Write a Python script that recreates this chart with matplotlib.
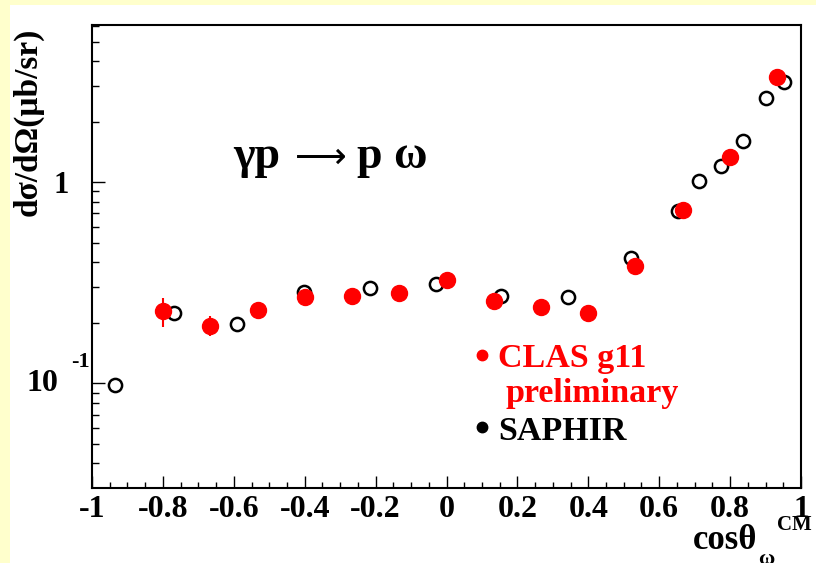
import matplotlib
matplotlib.use("Agg")
import matplotlib.pyplot as plt
import matplotlib.transforms as mtransforms
from matplotlib.patches import Rectangle
from matplotlib.ticker import MultipleLocator, FixedLocator
import numpy as np

# CLAS g11 preliminary: cos(theta) bins, dsigma/dOmega (ub/sr) and errors
clas_cos = [-0.800, -0.667, -0.533, -0.400, -0.267, -0.133, 0.000,
            0.133, 0.267, 0.400, 0.533, 0.667, 0.800, 0.933]
clas_xsec = [0.228, 0.194, 0.233, 0.268, 0.271, 0.280, 0.325,
             0.256, 0.239, 0.223, 0.382, 0.726, 1.33, 3.33]
clas_err = [0.037, 0.022, 0.010, 0.010, 0.010, 0.010, 0.012,
            0.010, 0.010, 0.010, 0.015, 0.030, 0.06, 0.15]

# SAPHIR points
saphir_cos = [-0.935, -0.769, -0.591, -0.402, -0.216, -0.030, 0.154,
              0.343, 0.520, 0.653, 0.712, 0.774, 0.836, 0.901, 0.952]
saphir_xsec = [0.098, 0.223, 0.197, 0.284, 0.297, 0.311, 0.271,
               0.268, 0.419, 0.718, 1.02, 1.20, 1.60, 2.62, 3.14]

x_ticks = [-1, -0.8, -0.6, -0.4, -0.2, 0, 0.2, 0.4, 0.6, 0.8, 1]
x_ticklabels = ["-1", "-0.8", "-0.6", "-0.4", "-0.2", "0", "0.2", "0.4", "0.6", "0.8", "1"]

W, H = 816, 563
serif = ["Liberation Serif", "DejaVu Serif"]
plt.rcParams["font.family"] = serif
plt.rcParams["font.weight"] = "bold"

fig = plt.figure(figsize=(W / 100, H / 100), dpi=100)
fig.patch.set_facecolor("white")
# yellow strips along the top and left edges
fig.patches.append(Rectangle((0, 0), 10 / W, 1, transform=fig.transFigure,
                             facecolor="#ffffcc", edgecolor="none", zorder=-10))
fig.patches.append(Rectangle((0, (H - 5) / H), 1, 5 / H, transform=fig.transFigure,
                             facecolor="#ffffcc", edgecolor="none", zorder=-10))

ax = fig.add_axes([92 / W, (H - 488) / H, (801 - 92) / W, (488 - 25) / H])
ax.set_facecolor("white")
ax.set_yscale("log")
ax.set_xlim(-1, 1)
ax.set_ylim(0.0302, 6.05)

for s in ax.spines.values():
    s.set_linewidth(1.5)

ax.xaxis.set_major_locator(FixedLocator(x_ticks))
ax.xaxis.set_minor_locator(MultipleLocator(0.05))
ax.set_xticklabels(x_ticklabels, fontsize=23, fontweight="bold")
ax.tick_params(axis="x", which="major", direction="in", length=8.5, width=1, pad=5)
ax.tick_params(axis="x", which="minor", direction="in", length=4.3, width=1)

ax.yaxis.set_major_locator(FixedLocator([0.1, 1]))
ax.yaxis.set_minor_locator(FixedLocator([m * 10.0 ** k for k in (-2, -1, 0)
                                         for m in range(2, 10)]))
ax.set_yticklabels(["", "1"], fontsize=22, fontweight="bold")
ax.yaxis.set_minor_formatter(plt.NullFormatter())
ax.tick_params(axis="y", which="major", direction="in", length=9.5, width=1, pad=17)
ax.tick_params(axis="y", which="minor", direction="in", length=5, width=1)
ax.tick_params(top=False, right=False, which="both")

# 10^-1 label drawn in two pieces
ytrans = mtransforms.blended_transform_factory(ax.transAxes, ax.transData)
ax.text(-(92 - 58) / 709, 0.1, "10", transform=ytrans, ha="right", va="center",
        fontsize=23, fontweight="bold")
ax.text(-(92 - 90) / 709, 0.1 * 10 ** (21 / 201), "-1", transform=ytrans, ha="right",
        va="center", fontsize=16, fontweight="bold")

# data
ax.plot(saphir_cos, saphir_xsec, "o", ms=9.5, mfc="none", mec="black", mew=1.8,
        zorder=3, clip_on=False)
ax.errorbar(clas_cos, clas_xsec, yerr=clas_err, fmt="o", ms=11.5, color="red",
            ecolor="red", elinewidth=1.5, capsize=0, zorder=4)

# reaction label
rx, ry = (233 - 92) / 709, (488 - 168) / 463
ax.text(rx, ry, "γp", transform=ax.transAxes, ha="left", va="baseline",
        fontsize=33, fontweight="bold")
ax.text((295 - 92) / 709, ry, "⟶", transform=ax.transAxes, ha="left", va="baseline",
        fontsize=26, fontweight="normal", family=["DejaVu Sans"])
ax.text((357 - 92) / 709, ry, "p ω", transform=ax.transAxes, ha="left", va="baseline",
        fontsize=33, fontweight="bold")

# legend
ax.plot([(482 - 92) / 709], [(488 - 355) / 463], "o", ms=7.5, color="red",
        transform=ax.transAxes, clip_on=False)
ax.text((498 - 92) / 709, (488 - 367) / 463, "CLAS g11", transform=ax.transAxes,
        ha="left", va="baseline", fontsize=24.5, fontweight="bold", color="red")
ax.text((505 - 92) / 709, (488 - 402) / 463, "preliminary", transform=ax.transAxes,
        ha="left", va="baseline", fontsize=24.5, fontweight="bold", color="red")
ax.plot([(482 - 92) / 709], [(488 - 427) / 463], "o", ms=7.5, color="black",
        transform=ax.transAxes, clip_on=False)
ax.text((498 - 92) / 709, (488 - 440) / 463, "SAPHIR", transform=ax.transAxes,
        ha="left", va="baseline", fontsize=24.5, fontweight="bold", color="black")

# axis titles
ax.set_ylabel("dσ/dΩ(μb/sr)", fontsize=24, fontweight="bold", va="center", ha="center")
ax.yaxis.set_label_coords(-(92 - 28) / 709, (488 - 122) / 463)

ax.set_xlabel("cosθ", fontsize=25, fontweight="bold", ha="left", va="baseline")
ax.xaxis.set_label_coords((693 - 92) / 709, -(549 - 488) / 463)
ax.text((758 - 92) / 709, -(564 - 488) / 463, "ω", transform=ax.transAxes,
        ha="left", va="baseline", fontsize=16, fontweight="bold")
ax.text((777 - 92) / 709, -(530 - 488) / 463, "CM", transform=ax.transAxes,
        ha="left", va="baseline", fontsize=15, fontweight="bold")

fig.savefig("out.png", dpi=100, facecolor=fig.get_facecolor())
